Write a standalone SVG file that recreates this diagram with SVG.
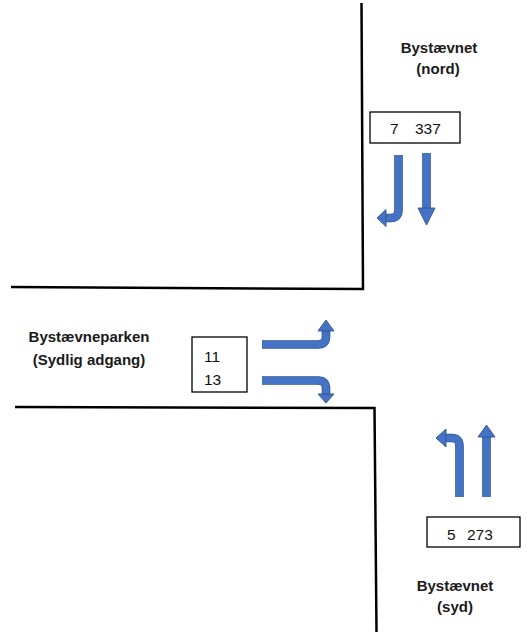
<svg xmlns="http://www.w3.org/2000/svg" width="529" height="636" viewBox="0 0 529 636">
<style>
.road{fill:none;stroke:#000;stroke-width:2.5;stroke-linejoin:miter}
.box{fill:#fff;stroke:#000;stroke-width:1.3}
.lbl{font-family:"Liberation Sans",Arial,sans-serif;font-weight:bold;font-size:15px;fill:#1a1a1a;text-anchor:middle}
.num{font-family:"Liberation Sans",Arial,sans-serif;font-size:15.5px;fill:#111}
.sho{fill:none;stroke:#2F528F;stroke-width:8.6}
.sh{fill:none;stroke:#4472C4;stroke-width:7}
.hd{fill:#4472C4;stroke:#2F528F;stroke-width:0.9;stroke-linejoin:miter}
</style>
<rect width="529" height="636" fill="#fff"/>
<g id="roads">
<path class="road" d="M361.5,3 L363,289 L11,287"/>
<path class="road" d="M15,407 L374.5,408 L376.5,632"/>
</g>
<g id="node-nord">
<text class="lbl" x="439" y="53">Bystævnet</text>
<text class="lbl" x="438" y="74">(nord)</text>
</g>
<g id="node-vest">
<text class="lbl" x="89" y="342">Bystævneparken</text>
<text class="lbl" x="89" y="365">(Sydlig adgang)</text>
</g>
<g id="node-syd">
<text class="lbl" x="455" y="591">Bystævnet</text>
<text class="lbl" x="455" y="612">(syd)</text>
</g>
<g id="count-nord">
<rect class="box" x="370" y="112" width="90" height="31"/>
<text class="num" x="390" y="134">7</text>
<text class="num" x="415" y="134">337</text>
</g>
<g id="count-vest">
<rect class="box" x="192" y="337" width="55" height="55"/>
<text class="num" x="204" y="362">11</text>
<text class="num" x="204" y="385">13</text>
</g>
<g id="count-syd">
<rect class="box" x="427" y="517" width="93" height="30"/>
<text class="num" x="447" y="540">5</text>
<text class="num" x="467" y="540">273</text>
</g>
<g id="connectors">
<g id="arrow-nord-left">
<path class="sho" d="M398.5,155 V210 Q398.5,218 390.5,218 H386"/>
<path class="sh" d="M398.5,155 V210 Q398.5,218 390.5,218 H385"/>
<polygon class="hd" points="386,209.5 386,226.5 377,218"/>
</g>
<g id="arrow-nord-straight">
<path class="sho" d="M426.5,153 V208"/>
<path class="sh" d="M426.5,153 V209"/>
<polygon class="hd" points="418,208 435,208 426.5,225"/>
</g>
<g id="arrow-vest-left">
<path class="sho" d="M262,344.5 H318 Q326,344.5 326,336.5 V331"/>
<path class="sh" d="M262,344.5 H318 Q326,344.5 326,336.5 V330"/>
<polygon class="hd" points="318,331 334,331 326,320"/>
</g>
<g id="arrow-vest-right">
<path class="sho" d="M262,380.5 H318 Q326,380.5 326,388.5 V394"/>
<path class="sh" d="M262,380.5 H318 Q326,380.5 326,388.5 V395"/>
<polygon class="hd" points="318,394 334,394 326,403"/>
</g>
<g id="arrow-syd-left">
<path class="sho" d="M459.5,497 V446 Q459.5,438 451.5,438 H446"/>
<path class="sh" d="M459.5,497 V446 Q459.5,438 451.5,438 H445"/>
<polygon class="hd" points="446,429 446,447 436,438"/>
</g>
<g id="arrow-syd-straight">
<path class="sho" d="M486.5,497 V437"/>
<path class="sh" d="M486.5,497 V436"/>
<polygon class="hd" points="478,437 495,437 486.5,425"/>
</g>
</g>
</svg>
